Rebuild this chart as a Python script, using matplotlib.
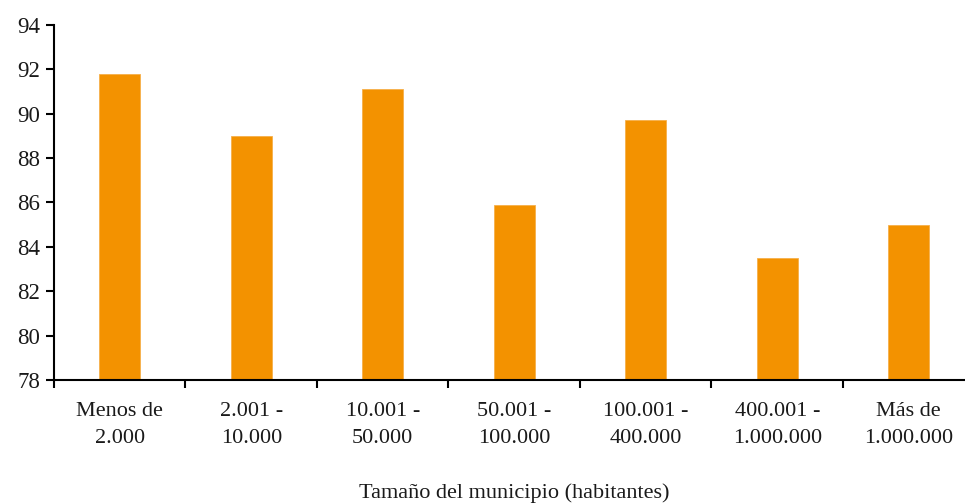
import matplotlib
matplotlib.use("Agg")
import matplotlib.pyplot as plt
import numpy as np

categories = ["Menos de\n2.000", "2.001 -\n10.000", "10.001 -\n50.000", "50.001 -\n100.000",
              "100.001 -\n400.000", "400.001 -\n1.000.000", "Más de\n1.000.000"]
values = [91.8, 89.0, 91.1, 85.9, 89.7, 83.5, 85.0]
y_ticks = [78, 80, 82, 84, 86, 88, 90, 92, 94]
x_title = "Tamaño del municipio (habitantes)"

plt.rcParams['font.family'] = ['Liberation Serif', 'DejaVu Serif']

fig = plt.figure(figsize=(9.65, 5.04), dpi=100)
ax = fig.add_axes([54 / 965, 1 - 380 / 504, 920.5 / 965, 355 / 504])

x = np.arange(len(categories))
ax.bar(x, values, width=0.31, color="#F39200", edgecolor="#F6B04A", linewidth=0.6, zorder=2)

ax.set_xlim(-0.5, len(categories) - 0.5)
ax.set_ylim(78, 94)
ax.set_yticks(y_ticks)
ax.set_yticklabels([str(v) for v in y_ticks], fontsize=16.5, color="#1a1a1a")

ax.set_xticks(x)
ax.set_xticklabels(categories, fontsize=16, color="#1a1a1a", linespacing=1.57)
ax.set_xticks(np.arange(-0.5, len(categories), 1.0), minor=True)
ax.tick_params(axis="x", which="major", length=0, pad=16)
ax.tick_params(axis="x", which="minor", length=6, width=1.5, direction="out", color="black")
ax.tick_params(axis="y", length=6, width=1.5, direction="out", pad=4, color="black")

for side in ("top", "right"):
    ax.spines[side].set_visible(False)
for side in ("left", "bottom"):
    ax.spines[side].set_linewidth(1.5)
    ax.spines[side].set_color("black")

ax.set_xlabel(x_title, fontsize=16, color="#1a1a1a", labelpad=25.5)

fig.savefig("out.png", dpi=100)
